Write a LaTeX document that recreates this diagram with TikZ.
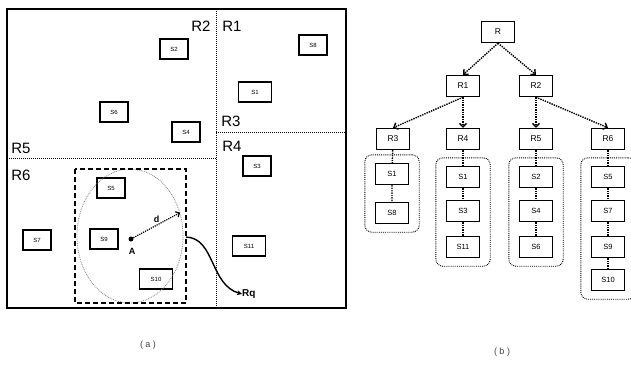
\documentclass[tikz,border=0pt]{standalone}
\usepackage{fontspec}
\setmainfont{Liberation Sans}
\usetikzlibrary{arrows.meta,positioning,fit,shapes}

\begin{document}
\begin{tikzpicture}[
    x=1pt, y=-1pt,
    every node/.style={align=center, inner sep=0pt},
    obj/.style={draw, line width=1.3pt, minimum width=28pt, minimum height=20pt, font=\fontsize{6}{7}\selectfont},
    wideobj/.style={obj, minimum width=33pt},
    tnode/.style={draw, line width=1.4pt, minimum width=33pt, minimum height=21pt, font=\fontsize{8.5}{9}\selectfont},
    leaf/.style={draw, line width=1.4pt, minimum width=33pt, minimum height=21pt, font=\fontsize{7.5}{8}\selectfont},
    region/.style={font=\fontsize{15}{16}\selectfont},
    split/.style={densely dotted, line width=1pt},
    link/.style={densely dotted, line width=1.4pt, -{Straight Barb[length=3.5pt,width=7pt]}},
    chain/.style={densely dotted, line width=1.4pt},
    group/.style={draw, densely dotted, line width=0.9pt, rounded corners=7pt, inner xsep=10pt, inner ysep=8pt},
    caption/.style={font=\fontsize{9}{10}\selectfont, text=black!75}
  ]
    \useasboundingbox (0,0) rectangle (631,364);

    % Space and its regions
    \draw[line width=1.7pt] (7,9) rectangle (346,308);
    \draw[split] (216,9) -- (216,308);
    \draw[split] (216,132) -- (346,132);
    \draw[split] (7,158) -- (216,158);

    \node[region] (lr2) at (201,26) {R2};
    \node[region] (lr1) at (232,26) {R1};
    \node[region] (lr3) at (231,121) {R3};
    \node[region] (lr4) at (232,146) {R4};
    \node[region] (lr5) at (21,148) {R5};
    \node[region] (lr6) at (21,175) {R6};

    % Objects
    \node[obj] (o2) at (174,49) {S2};
    \node[obj] (o8) at (313,45) {S8};
    \node[wideobj] (o1) at (255,92) {S1};
    \node[obj] (o6) at (114,112) {S6};
    \node[obj] (o4) at (186,132) {S4};
    \node[obj] (o3) at (257,166) {S3};
    \node[obj] (o5) at (111,188) {S5};
    \node[obj] (o7) at (37,240) {S7};
    \node[obj] (o9) at (104,239) {S9};
    \node[wideobj] (o11) at (249,246) {S11};
    \node[wideobj] (o10) at (156,279) {S10};

    % Query range
    \node[ellipse, draw=gray, densely dotted, line width=0.8pt, minimum width=106pt, minimum height=134pt] (range) at (130,236) {};
    \draw[line width=1.4pt, dash pattern=on 5pt off 3pt] (75,169) rectangle (186,303);
    \node[circle, fill, minimum size=5pt] (qa) at (131,239) {};
    \node[font=\bfseries\fontsize{9}{10}\selectfont] (qlabel) at (132,251) {A};
    \draw[densely dotted, line width=1.2pt, -{Straight Barb[length=3pt,width=6pt]}] (qa) -- (range.25) node[midway, above=2pt, font=\bfseries\fontsize{9}{10}\selectfont] {d};
    \node[font=\bfseries\fontsize{10}{11}\selectfont, anchor=west] (rq) at (242,294) {Rq};
    \draw[line width=1.4pt, -{Stealth[length=5pt,width=5pt]}] (186,237) .. controls (215,238) and (210,285) .. (rq.west);

    % Tree
    \node[tnode] (r) at (498,32) {R};
    \node[tnode] (r1) at (463,86) {R1};
    \node[tnode] (r2) at (536,86) {R2};
    \node[tnode] (r3) at (393,139) {R3};
    \node[tnode] (r4) at (463,139) {R4};
    \node[tnode] (r5) at (536,139) {R5};
    \node[tnode] (r6) at (608,139) {R6};

    \draw[link] (r.south) -- (r1.north);
    \draw[link] (r.south) -- (r2.north);
    \draw[link] (r1.south) -- (r3.north);
    \draw[link] (r1) -- (r4);
    \draw[link] (r2) -- (r5);
    \draw[link] (r2.south) -- (r6.north);

    % Leaf lists
    \node[leaf] (a1) at (392,174) {S1};
    \node[leaf] (a2) at (392,213) {S8};
    \node[leaf] (b1) at (463,177) {S1};
    \node[leaf] (b2) at (463,211) {S3};
    \node[leaf] (b3) at (463,247) {S11};
    \node[leaf] (c1) at (536,177) {S2};
    \node[leaf] (c2) at (536,211) {S4};
    \node[leaf] (c3) at (536,247) {S6};
    \node[leaf] (d1) at (608,177) {S5};
    \node[leaf] (d2) at (608,211) {S7};
    \node[leaf] (d3) at (608,247) {S9};
    \node[leaf] (d4) at (608,280) {S10};

    \draw[chain] (r3) -- (a1) -- (a2);
    \draw[chain] (r4) -- (b1) -- (b2) -- (b3);
    \draw[chain] (r5) -- (c1) -- (c2) -- (c3);
    \draw[chain] (r6) -- (d1) -- (d2) -- (d3) -- (d4);

    \node[group, fit=(a1) (a2)] (ga) {};
    \node[group, fit=(b1) (b3)] (gb) {};
    \node[group, fit=(c1) (c3)] (gc) {};
    \node[group, fit=(d1) (d4)] (gd) {};

    % Captions
    \node[caption] (capa) at (148,345) {( a )};
    \node[caption] (capb) at (502,352) {( b )};

  \end{tikzpicture}
\end{document}
